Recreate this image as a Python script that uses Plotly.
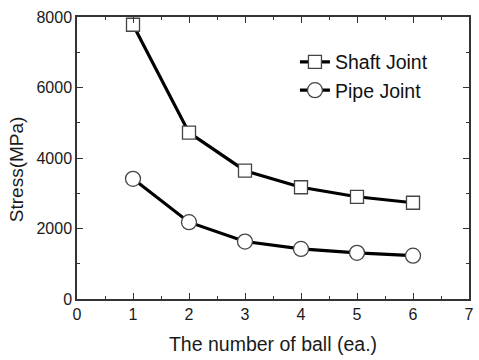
import plotly.graph_objects as go

# Number of balls in the joint
balls = [1, 2, 3, 4, 5, 6]
# Maximum stress (MPa)
shaft_stress = [7780, 4720, 3640, 3170, 2900, 2730]
pipe_stress = [3410, 2180, 1630, 1420, 1310, 1230]

font_family = "Liberation Sans, Arial, sans-serif"

fig = go.Figure()
fig.add_trace(go.Scatter(
    x=balls, y=shaft_stress, name="Shaft Joint", mode="lines+markers",
    line=dict(color="black", width=3.2),
    marker=dict(symbol="square", size=13, color="white",
                line=dict(color="#444444", width=1.3)),
))
fig.add_trace(go.Scatter(
    x=balls, y=pipe_stress, name="Pipe Joint", mode="lines+markers",
    line=dict(color="black", width=3.2),
    marker=dict(symbol="circle", size=15, color="white",
                line=dict(color="#444444", width=1.3)),
))

axis_common = dict(
    showgrid=False, zeroline=False, showline=True, linecolor="#333333",
    linewidth=1.5, mirror="ticks", ticks="inside", ticklen=6, tickwidth=1.2,
    tickcolor="#333333",
    tickfont=dict(family=font_family, size=16, color="#1a1a1a"),
)

fig.update_xaxes(
    range=[0, 7], tick0=0, dtick=1,
    minor=dict(ticks="inside", ticklen=3, tickwidth=1.2, tickcolor="#333333", dtick=0.5),
    title=dict(text="The number of ball (ea.)",
               font=dict(family=font_family, size=19.5, color="#1a1a1a"), standoff=15),
    **axis_common,
)
fig.update_yaxes(
    range=[0, 8000], tick0=0, dtick=2000,
    minor=dict(ticks="inside", ticklen=3, tickwidth=1.2, tickcolor="#333333", dtick=1000),
    **axis_common,
)

# Y-axis title, placed slightly below the vertical centre of the plot
fig.add_annotation(
    text="Stress(MPa)", textangle=-90, showarrow=False,
    xref="paper", yref="paper", x=-0.154, y=0.459,
    xanchor="center", yanchor="middle",
    font=dict(family=font_family, size=19, color="#1a1a1a"),
)

fig.update_layout(
    width=479, height=360,
    margin=dict(l=77, r=5, t=17, b=61),
    paper_bgcolor="white", plot_bgcolor="white",
    showlegend=True,
    legend=dict(x=0.556, y=0.909, xanchor="left", yanchor="top",
                bgcolor="rgba(0,0,0,0)", borderwidth=0,
                font=dict(family=font_family, size=19.5, color="#111111"),
                itemwidth=30, tracegroupgap=0),
)

fig.write_html("out.html")
